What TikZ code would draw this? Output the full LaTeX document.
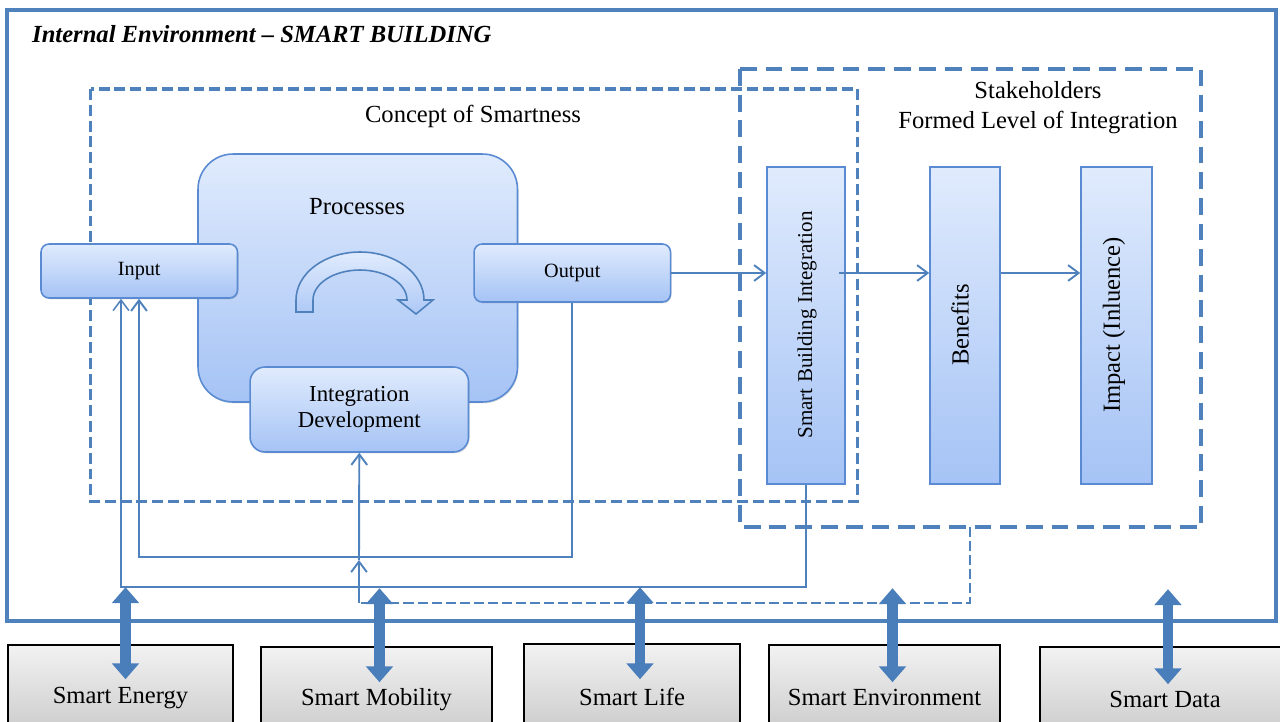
\documentclass[tikz,border=0pt]{standalone}
\usepackage{fontspec}
\setmainfont{Liberation Serif}
\usetikzlibrary{arrows.meta,calc,shadows}

\definecolor{frameblue}{HTML}{4F81BD}
\definecolor{boxline}{HTML}{5A8BD2}
\definecolor{boxtop}{HTML}{E0EBFD}
\definecolor{boxbottom}{HTML}{A5C3F5}
\definecolor{graytop}{HTML}{F2F2F2}
\definecolor{graybottom}{HTML}{C4C4C4}
\definecolor{arrowblue}{HTML}{4A7EBB}

\tikzset{
  bluebox/.style={draw=boxline, line width=0.9pt, top color=boxtop, bottom color=boxbottom, inner sep=0pt},
  roundbox/.style={bluebox, rounded corners=0.16cm, drop shadow={opacity=0.25,shadow xshift=0.6pt,shadow yshift=-0.8pt}},
  tallbox/.style={bluebox, minimum height=6.34cm},
  graybox/.style={draw=black, line width=0.9pt, top color=graytop, bottom color=graybottom, minimum height=2.1cm, inner sep=0pt, font=\fontsize{14}{16}\selectfont},
  flow/.style={draw=frameblue, line width=1.1pt, -{Straight Barb[length=6pt,width=9pt]}},
  linkarrow/.style={draw=arrowblue, line width=6pt, {Triangle[length=9pt,width=15pt]}-{Triangle[length=9pt,width=15pt]}},
}

\begin{document}
\begin{tikzpicture}[x=0.02cm, y=-0.02cm]
  \useasboundingbox (0,0) rectangle (1280,721);

  % outer frame and groups
  \draw[frameblue, line width=2.3pt] (7,10) rectangle (1276,621);
  \node[anchor=base west, font=\fontsize{14}{16}\selectfont\bfseries\itshape] (title) at (26,42) {Internal Environment -- SMART BUILDING};
  \draw[frameblue, line width=2pt, dash pattern=on 6.2pt off 2.8pt] (90.6,89) rectangle (857.5,501.7);
  \draw[frameblue, line width=2.2pt, dash pattern=on 9.6pt off 5pt] (740,69) rectangle (1201,527);
  \coordinate (stakeout) at (970,527);
  \node[font=\fontsize{14}{16}\selectfont] (concept) at (473,116) {Concept of Smartness};
  \node[align=center, font=\fontsize{14}{17}\selectfont] (stake) at (1038,108) {Stakeholders\\Formed Level of Integration};

  % concept of smartness
  \node[bluebox, rounded corners=0.7cm, minimum width=6.39cm, minimum height=4.96cm, drop shadow={opacity=0.25,shadow xshift=0.6pt,shadow yshift=-0.8pt}] (proc) at (357.75,278) {};
  \node[font=\fontsize{14}{16}\selectfont] (proctext) at (357,207) {Processes};
  \draw[draw=frameblue, line width=0.9pt, top color=boxtop, bottom color=boxbottom!90!white]
    (296,312) -- (296,300) arc[start angle=180, end angle=360, x radius=64, y radius=48]
    -- (433,300) -- (416,314) -- (398,300) -- (407,300)
    arc[start angle=360, end angle=180, x radius=47, y radius=30] -- (313,312) -- cycle;
  \node[roundbox, minimum width=3.93cm, minimum height=1.08cm, font=\fontsize{11.5}{13}\selectfont] (input) at (139.25,271) {Input};
  \node[roundbox, minimum width=3.93cm, minimum height=1.16cm, font=\fontsize{11.5}{13}\selectfont] (output) at (572.3,273) {Output};
  \node[roundbox, rounded corners=0.3cm, minimum width=4.37cm, minimum height=1.7cm, align=center, font=\fontsize{13}{15}\selectfont] (intdev) at (359.3,409.5) {Integration\\Development};

  % stakeholders
  \node[tallbox, minimum width=1.56cm] (sbi) at (806,325.5) {};
  \node[tallbox, minimum width=1.4cm] (benefits) at (965,325.5) {};
  \node[tallbox, minimum width=1.42cm] (impact) at (1116.5,325.5) {};
  \node[rotate=90, font=\fontsize{12}{14}\selectfont] (sbitext) at (807,325) {Smart Building Integration};
  \node[rotate=90, font=\fontsize{14}{16}\selectfont] (benefitstext) at (960,325) {Benefits};
  \node[rotate=90, font=\fontsize{14}{16}\selectfont] (impacttext) at (1114,325) {Impact (Inluence)};

  \draw[flow] (output.east) -- (output.east -| sbi.west);
  \draw[flow] ($(sbi.east |- output.east)+(-7,0)$) -- (output.east -| benefits.west);
  \draw[flow] (benefits.east |- output.east) -- (output.east -| impact.west);

  % feedback loops
  \coordinate (loopa) at (139,557);
  \coordinate (loopb) at (121,587);
  \coordinate (loopc) at (359,603);
  \coordinate (loopd) at (359,560);
  \draw[flow] (output.south) |- (loopa) -- (loopa |- input.south);
  \draw[flow, line width=0.85pt] (sbi.south) |- (loopb) -- (loopb |- input.south);
  \draw[frameblue, line width=1pt, dash pattern=on 5.7pt off 2.3pt] (stakeout) |- (loopc);
  \draw[flow] (loopc) -- (loopd);
  \draw[flow] (loopd) -- (intdev.south);

  % smart city domains
  \node[graybox, minimum width=4.5cm] (energy) at (120.5,697.5) {Smart Energy};
  \node[graybox, minimum width=4.62cm] (mobility) at (376.5,699.5) {Smart Mobility};
  \node[graybox, minimum width=4.32cm] (life) at (632,696.5) {Smart Life};
  \node[graybox, minimum width=4.62cm] (environment) at (884.5,697.5) {Smart Environment};
  \node[graybox, minimum width=5cm] (data) at (1165,699.5) {Smart Data};

  \draw[linkarrow] ($(energy.north)+(5,-57)$) -- ($(energy.north)+(5,35)$);
  \draw[linkarrow] ($(mobility.north)+(3,-58)$) -- ($(mobility.north)+(3,36)$);
  \draw[linkarrow] ($(life.north)+(8,-56)$) -- ($(life.north)+(8,36)$);
  \draw[linkarrow] ($(environment.north)+(8,-56)$) -- ($(environment.north)+(8,38)$);
  \draw[linkarrow] ($(data.north)+(3,-57)$) -- ($(data.north)+(3,38)$);
\end{tikzpicture}
\end{document}
